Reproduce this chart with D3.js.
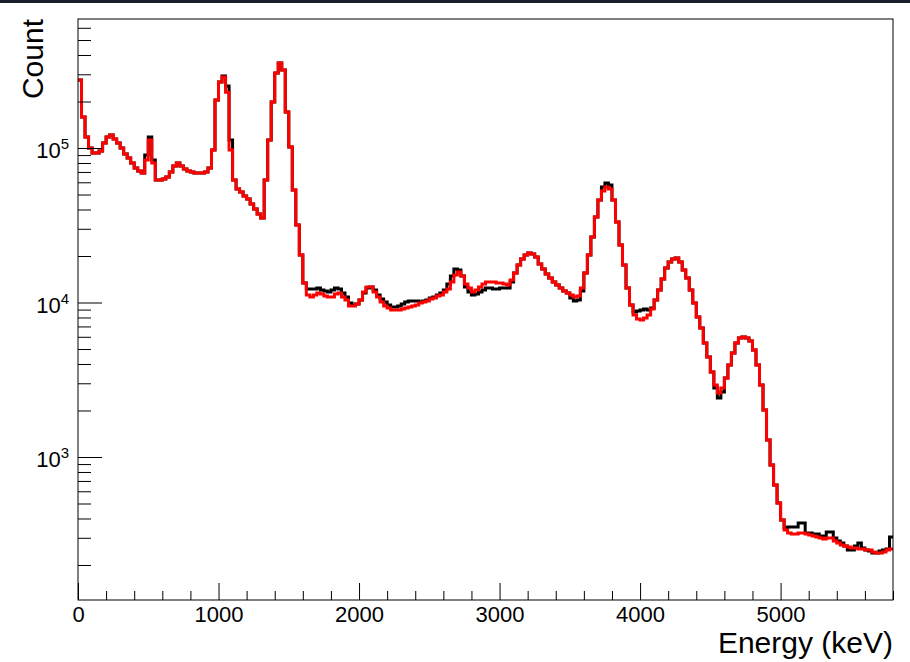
<!DOCTYPE html>
<html>
<head>
<meta charset="utf-8">
<script src="https://cdn.jsdelivr.net/npm/d3@7"></script>
<style>
  body { margin: 0; background: #fff; }
  svg { display: block; font-family: "Liberation Sans", Arial, Helvetica, sans-serif; }
</style>
</head>
<body>
<script>
// energy bins, 25 keV wide, 0 - 5800 keV
var binWidth = 25
var binStart = d3.range(0, 5800, binWidth)

// red histogram (drawn on top)
var redCounts = [
  275500, 158700, 117800, 100000, 92830, 92830, 95630, 107700, 117800, 121400,
  114400, 107700, 100000, 91460, 86170, 79970, 74230, 70980, 68900, 83640,
  112700, 79970, 62080, 62080, 63010, 64920, 69930, 76470, 79970, 76470,
  73130, 70980, 69930, 68900, 68900, 68900, 69930, 74230, 97060, 204500,
  267000, 288000, 230000, 97060, 62080, 54270, 51900, 48920, 46770, 43430,
  40290, 37400, 35230, 62080, 112700, 198500, 306000, 355000, 320000, 171000,
  101500, 53470, 31750, 20300, 13380, 11180, 10850, 11180, 11520, 11350,
  11020, 10850, 10850, 11350, 11520, 10850, 10380, 9492, 9492, 9779,
  10380, 11690, 12600, 12600, 11690, 10850, 10070, 9492, 9213, 8943,
  8943, 8943, 9077, 9213, 9351, 9492, 9634, 9925, 10070, 10230,
  10530, 10690, 11020, 11180, 11690, 12230, 13580, 15070, 15750, 14840,
  13180, 12410, 11690, 12050, 12600, 13180, 13580, 13580, 13580, 13380,
  13380, 13180, 12980, 13990, 15520, 17490, 19120, 20300, 20920, 20610,
  19700, 17750, 16480, 15290, 14410, 13580, 12980, 12410, 11870, 11520,
  11180, 10850, 11020, 12410, 15520, 20300, 26540, 35760, 46080, 52670,
  55910, 54270, 46080, 33200, 23560, 17490, 12410, 9634, 8301, 7821,
  7706, 7939, 8301, 9077, 10380, 12050, 14200, 16720, 18290, 19120,
  19410, 18290, 16230, 14410, 12050, 9925, 8058, 6839, 5468, 4438,
  3549, 2924, 2595, 2796, 3245, 3939, 4711, 5468, 5891, 5979,
  5891, 5634, 4926, 3939, 2924, 2015, 1288, 888, 659, 504,
  391, 337, 322, 317, 317, 322, 322, 317, 313, 308,
  304, 299, 295, 299, 299, 286, 278, 269, 265, 262,
  258, 258, 254, 254, 250, 250, 243, 239, 239, 243,
  250, 254
]

// black histogram
var blackCounts = [
  275500, 158700, 117800, 100000, 92830, 92830, 95630, 107700, 117800, 121400,
  114400, 107700, 100000, 91460, 86170, 79970, 74230, 70980, 68900, 90100,
  117800, 83640, 62080, 62080, 63010, 64920, 69930, 76470, 79970, 76470,
  73130, 70980, 69930, 68900, 68900, 68900, 69930, 74230, 97060, 204500,
  267000, 292000, 252000, 112700, 62080, 54270, 51900, 48920, 46770, 43430,
  40290, 37400, 35230, 62080, 112700, 198500, 306000, 355000, 320000, 171000,
  101500, 53470, 31750, 20300, 13380, 12230, 12230, 12230, 12410, 12050,
  11870, 11690, 12050, 12410, 12230, 11520, 10850, 9925, 9634, 9779,
  10380, 11520, 12410, 12600, 12050, 11180, 10530, 10070, 9634, 9351,
  9351, 9492, 9779, 10070, 10230, 10230, 10230, 10070, 10230, 10380,
  10690, 10850, 11180, 11520, 12050, 13180, 14840, 16480, 16230, 14840,
  12600, 11690, 11180, 11350, 11690, 12050, 12410, 12410, 12230, 12230,
  12410, 12410, 12410, 13580, 15520, 17490, 19120, 20300, 20920, 20610,
  19700, 17750, 16480, 15290, 14410, 13580, 12980, 12410, 11870, 11520,
  10690, 10230, 10380, 11870, 15520, 20300, 26540, 35760, 46080, 55910,
  59370, 57600, 46080, 33200, 23560, 17490, 12410, 9634, 8681, 8811,
  8943, 9077, 8943, 9213, 10380, 12050, 14200, 16720, 18290, 19120,
  19410, 18290, 16230, 14410, 12050, 9925, 8058, 6839, 5468, 4438,
  3549, 2796, 2409, 2634, 3245, 3939, 4711, 5468, 5891, 5979,
  5891, 5634, 4926, 3939, 2924, 2015, 1288, 888, 659, 504,
  391, 347, 352, 352, 352, 374, 374, 322, 322, 317,
  317, 308, 308, 327, 327, 299, 286, 278, 265, 250,
  250, 265, 278, 258, 250, 246, 239, 239, 246, 250,
  254, 304
]

var xMajor = [0, 1000, 2000, 3000, 4000, 5000]
var yMajor = [1e3, 1e4, 1e5]
var yExponents = ["3", "4", "5"]

var W = 910, H = 662
var frame = {left: 78, right: 893, top: 19, bottom: 600}

var svg = d3.select("body").append("svg")
    .attr("width", W)
    .attr("height", H)

// dark strip along the top edge of the canvas
svg.append("rect")
    .attr("x", 0).attr("y", 0)
    .attr("width", W).attr("height", 3)
    .attr("fill", "#1b1e2a")

var x = d3.scaleLinear()
    .domain([0, 5800])
    .range([frame.left, frame.right])

var y = d3.scaleLog()
    .domain([118.7, 684000])
    .range([frame.bottom, frame.top])

svg.append("clipPath").attr("id", "clip")
  .append("rect")
    .attr("x", frame.left).attr("y", frame.top)
    .attr("width", frame.right - frame.left)
    .attr("height", frame.bottom - frame.top)

// step line for a histogram
var step = d3.line()
    .x(function(d) { return x(d[0]) })
    .y(function(d) { return y(d[1]) })
    .curve(d3.curveStepAfter)

function histPoints(counts) {
  var pts = counts.map(function(c, i) { return [binStart[i], c] })
  pts.push([binStart[binStart.length - 1] + binWidth, counts[counts.length - 1]])
  return pts
}

var plot = svg.append("g").attr("clip-path", "url(#clip)")

plot.append("path")
    .attr("d", step(histPoints(blackCounts)))
    .attr("fill", "none")
    .attr("stroke", "#000")
    .attr("stroke-width", 3)

plot.append("path")
    .attr("d", step(histPoints(redCounts)))
    .attr("fill", "none")
    .attr("stroke", "#ff0000")
    .attr("stroke-width", 3)

// frame
svg.append("rect")
    .attr("x", frame.left).attr("y", frame.top)
    .attr("width", frame.right - frame.left)
    .attr("height", frame.bottom - frame.top)
    .attr("fill", "none")
    .attr("stroke", "#000")
    .attr("stroke-width", 1)

// x axis: ticks point inwards like ROOT
var xMinor = d3.range(0, 5801, 200).filter(function(v) { return xMajor.indexOf(v) < 0 })

svg.append("g")
    .attr("transform", "translate(0," + frame.bottom + ")")
    .call(d3.axisBottom(x).tickValues(xMinor).tickSize(-9).tickFormat(""))
    .call(function(g) { g.select(".domain").remove() })

svg.append("g")
    .attr("transform", "translate(0," + frame.bottom + ")")
    .call(d3.axisBottom(x).tickValues(xMajor).tickSize(-17).tickPadding(6).tickFormat(d3.format("d")))
    .call(function(g) { g.select(".domain").remove() })
    .selectAll("text")
    .attr("font-size", 22)
    .attr("font-family", "Liberation Sans, Arial, sans-serif")
    .attr("fill", "#000")

// y axis
var yMinor = []
;[100, 1000, 10000, 100000].forEach(function(dec) {
  for (var k = 2; k <= 9; k++) {
    var v = dec * k
    if (v >= y.domain()[0] && v <= y.domain()[1]) yMinor.push(v)
  }
})

svg.append("g")
    .attr("transform", "translate(" + frame.left + ",0)")
    .call(d3.axisLeft(y).tickValues(yMinor).tickSize(-13).tickFormat(""))
    .call(function(g) { g.select(".domain").remove() })

svg.append("g")
    .attr("transform", "translate(" + frame.left + ",0)")
    .call(d3.axisLeft(y).tickValues(yMajor).tickSize(-24).tickFormat(""))
    .call(function(g) { g.select(".domain").remove() })

svg.selectAll("line").attr("stroke", "#000")

var ylab = svg.append("g").selectAll("text")
    .data(yMajor)
    .enter().append("text")
    .attr("x", 69)
    .attr("y", function(d) { return y(d) + 10 })
    .attr("text-anchor", "end")
    .attr("fill", "#000")

ylab.append("tspan")
    .attr("font-size", 22)
    .text("10")

ylab.append("tspan")
    .attr("font-size", 15)
    .attr("dy", -9)
    .text(function(d, i) { return yExponents[i] })

// axis titles
svg.append("text")
    .attr("x", frame.right)
    .attr("y", 653)
    .attr("text-anchor", "end")
    .attr("font-size", 30)
    .attr("fill", "#000")
    .text("Energy (keV)")

svg.append("text")
    .attr("transform", "translate(43," + frame.top + ") rotate(-90)")
    .attr("text-anchor", "end")
    .attr("font-size", 30)
    .attr("fill", "#000")
    .text("Count")
</script>
</body>
</html>
